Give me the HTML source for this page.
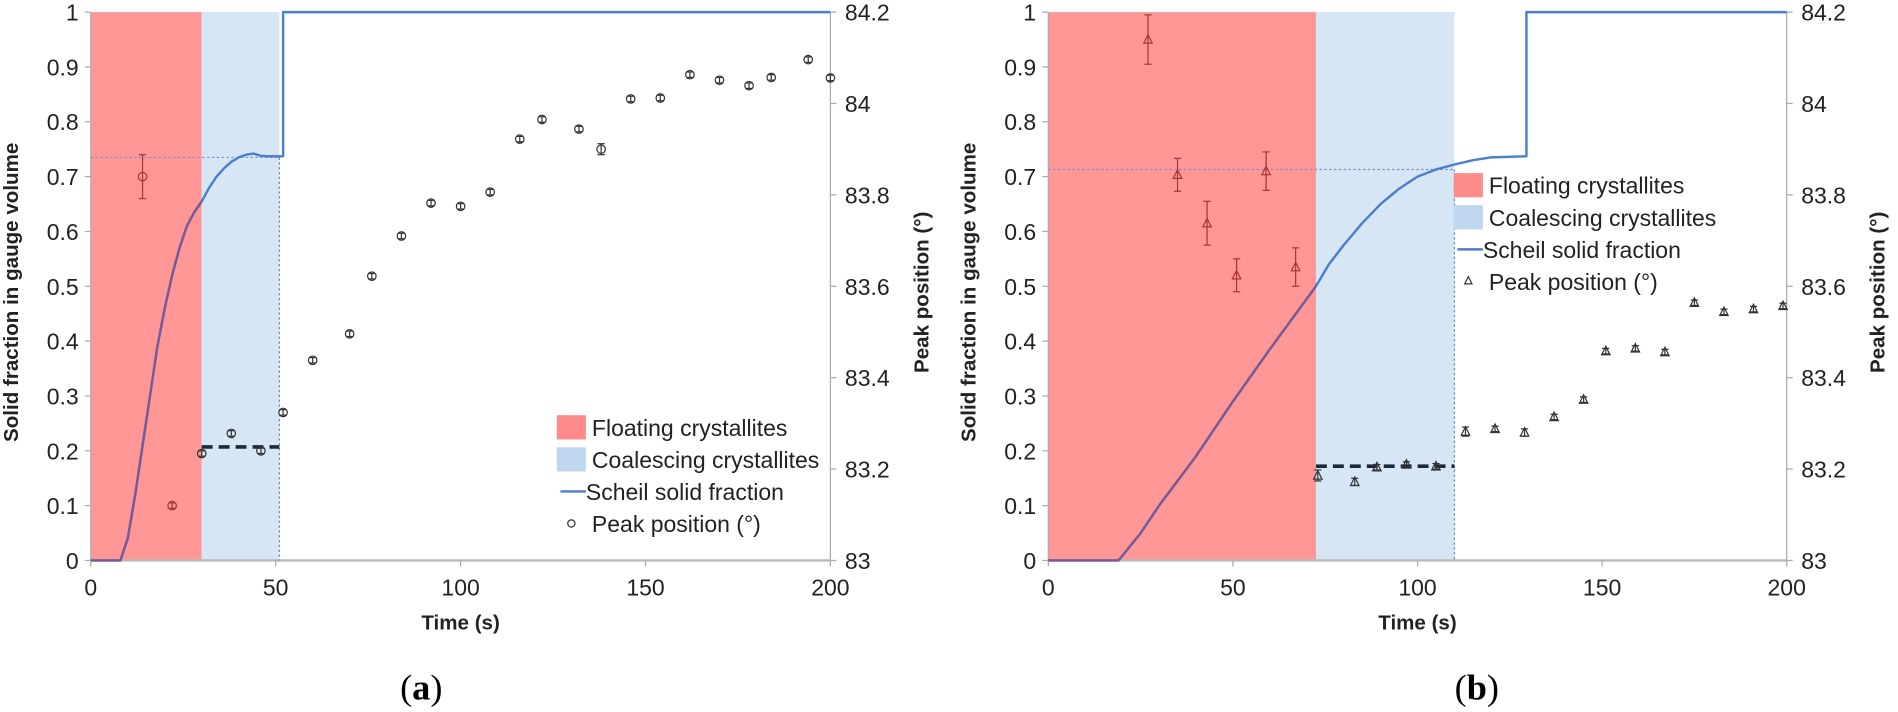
<!DOCTYPE html>
<html><head><meta charset="utf-8">
<style>
html,body{margin:0;padding:0;background:#fff;}
svg{display:block;font-family:"Liberation Sans",sans-serif;}
</style></head>
<body>
<svg id="chart" width="1898" height="712" viewBox="0 0 1898 712"><g id="root" transform="scale(1.2105)"></g></svg>
<script>
// ---------- data ----------
const xTicks = [0, 50, 100, 150, 200];
const yTicks = [0, 0.1, 0.2, 0.3, 0.4, 0.5, 0.6, 0.7, 0.8, 0.9, 1];
const y2Ticks = [83, 83.2, 83.4, 83.6, 83.8, 84, 84.2];

const aRegions = [30, 51];
const aScheilT = [0, 8, 10, 12, 14, 16, 18, 20, 22, 24, 26, 28, 30, 32, 34, 36, 38, 40, 42, 44, 46, 48, 52, 52, 200];
const aScheilF = [0, 0, 0.04, 0.12, 0.21, 0.30, 0.39, 0.46, 0.52, 0.57, 0.61, 0.635, 0.655, 0.68, 0.70, 0.715, 0.727, 0.735, 0.74, 0.742, 0.738, 0.737, 0.737, 1, 1];
const aPeakT = [14, 22, 30, 38, 46, 52, 60, 70, 76, 84, 92, 100, 108, 116, 122, 132, 138, 146, 154, 162, 170, 178, 184, 194, 200];
const aPeakV = [83.84, 83.12, 83.234, 83.278, 83.24, 83.324, 83.438, 83.496, 83.622, 83.71, 83.782, 83.775, 83.806, 83.922, 83.965, 83.944, 83.9, 84.01, 84.012, 84.063, 84.051, 84.039, 84.057, 84.096, 84.056];
const aPeakErr = [0.048, 0.006, 0.006, 0.006, 0.006, 0.006, 0.006, 0.006, 0.006, 0.006, 0.006, 0.006, 0.006, 0.006, 0.006, 0.006, 0.012, 0.006, 0.006, 0.006, 0.006, 0.006, 0.006, 0.006, 0.006];
const aCoherent = 0.735, aDashed = 0.207;

const bRegions = [72.5, 110];
const bScheilT = [0, 19, 25, 30, 40, 50, 60, 72.5, 76, 80, 85, 90, 95, 100, 105, 110, 115, 120, 129.5, 129.5, 200];
const bScheilF = [0, 0, 0.05, 0.1, 0.19, 0.29, 0.385, 0.5, 0.54, 0.575, 0.615, 0.65, 0.678, 0.7, 0.713, 0.722, 0.73, 0.735, 0.737, 1, 1];
const bPeakT = [27, 35, 43, 51, 59, 67, 73, 83, 89, 97, 105, 113, 121, 129, 137, 145, 151, 159, 167, 175, 183, 191, 199];
const bPeakV = [84.14, 83.844, 83.738, 83.624, 83.852, 83.642, 83.186, 83.172, 83.204, 83.21, 83.206, 83.282, 83.288, 83.28, 83.314, 83.352, 83.458, 83.464, 83.456, 83.564, 83.544, 83.55, 83.557];
const bPeakErr = [0.054, 0.036, 0.048, 0.036, 0.042, 0.042, 0.012, 0.008, 0.006, 0.006, 0.006, 0.01, 0.006, 0.008, 0.006, 0.006, 0.006, 0.006, 0.006, 0.006, 0.006, 0.006, 0.006];
const bCoherent = 0.713, bDashed = 0.172;

// ---------- drawing ----------
const NS = "http://www.w3.org/2000/svg";
const root = document.getElementById("root");
function mk(tag, attrs, parent) {
  const e = document.createElementNS(NS, tag);
  for (const k in attrs) e.setAttribute(k, attrs[k]);
  (parent || root).appendChild(e);
  return e;
}
const Y0 = 463, Y1 = 10;

function panel(id, L, R, regions, sT, sF, pT, pV, pE, coh, dash, marker, legX, legY, cap, capX) {
  const g = mk("g", {});
  
  
  const xs = t => L + (R - L) * t / 200;
  const ys = f => Y0 - (Y0 - Y1) * f;
  const y2s = v => Y0 - (Y0 - Y1) * (v - 83) / 1.2;

  const red = mk("rect", {x: xs(0), y: Y1, width: xs(regions[0]) - xs(0), height: Y0 - Y1, fill: "#ff9797"}, g);
  
  
  const blue = mk("rect", {x: xs(regions[0]), y: Y1, width: xs(regions[1]) - xs(regions[0]), height: Y0 - Y1, fill: "#d6e6f5"}, g);
  
  

  mk("line", {x1: L, y1: Y1, x2: L, y2: Y0, stroke: "#aaa", "stroke-width": 1}, g);
  mk("line", {x1: R, y1: Y1, x2: R, y2: Y0, stroke: "#aaa", "stroke-width": 1}, g);
  mk("line", {x1: L, y1: Y0, x2: R, y2: Y0, stroke: "#bbb", "stroke-width": 2}, g);
  yTicks.forEach(v => {
    mk("line", {x1: L - 5, y1: ys(v), x2: L, y2: ys(v), stroke: "#aaa"}, g);
    const t = mk("text", {x: L - 10, y: ys(v) + 7, "text-anchor": "end", "font-size": 19, fill: "#222"}, g);
    t.textContent = String(v);
    
    
  });
  y2Ticks.forEach(v => {
    mk("line", {x1: R, y1: y2s(v), x2: R + 5, y2: y2s(v), stroke: "#aaa"}, g);
    const t = mk("text", {x: R + 12, y: y2s(v) + 7, "font-size": 19, fill: "#222"}, g);
    t.textContent = String(v);
    
    
  });
  xTicks.forEach(v => {
    mk("line", {x1: xs(v), y1: Y0, x2: xs(v), y2: Y0 + 5, stroke: "#aaa"}, g);
    const t = mk("text", {x: xs(v), y: Y0 + 29, "text-anchor": "middle", "font-size": 19, fill: "#222"}, g);
    t.textContent = String(v);
    
    
  });
  const xt = mk("text", {x: (L + R) / 2, y: 520, "text-anchor": "middle", "font-size": 17, "font-weight": "bold", fill: "#222"}, g);
  xt.textContent = "Time (s)";
  
  
  const yt = mk("text", {transform: `translate(${L - 60},${(Y0 + Y1) / 2 + 5}) rotate(-90)`, "text-anchor": "middle", "font-size": 17, "font-weight": "bold", fill: "#222"}, g);
  yt.textContent = "Solid fraction in gauge volume";
  
  
  const y2t = mk("text", {transform: `translate(${R + 81},${(Y0 + Y1) / 2 + 5}) rotate(-90)`, "text-anchor": "middle", "font-size": 17, "font-weight": "bold", fill: "#222"}, g);
  y2t.textContent = "Peak position (°)";
  
  

  mk("line", {x1: xs(0), y1: ys(coh), x2: xs(regions[1]), y2: ys(coh), stroke: "#8a8ac0", "stroke-width": 1, "stroke-dasharray": "2,2"}, g);
  mk("line", {x1: xs(regions[1]), y1: ys(coh), x2: xs(regions[1]), y2: Y0, stroke: "#5b8fd6", "stroke-width": 1, "stroke-dasharray": "2,2"}, g);
  const dl = mk("line", {x1: xs(regions[0]), y1: ys(dash), x2: xs(regions[1]), y2: ys(dash), stroke: "#1d2a3a", "stroke-width": 3, "stroke-dasharray": "9,5"}, g);
  
  

  const d = sT.map((t, i) => (i ? "L" : "M") + xs(t).toFixed(1) + "," + ys(sF[i]).toFixed(1)).join(" ");
  const clipId = "clip" + id;
  const cp = mk("clipPath", {id: clipId}, g);
  mk("rect", {x: xs(0), y: 0, width: xs(regions[0]) - xs(0), height: 712}, cp);
  const sl = mk("path", {d: d, fill: "none", stroke: "#4a7fcb", "stroke-width": 2, "stroke-linejoin": "round"}, g);
  
  
  mk("path", {d: d, fill: "none", stroke: "#7a5a95", "stroke-width": 2, "stroke-linejoin": "round", "clip-path": `url(#${clipId})`}, g);

  pT.forEach((t, i) => {
    const x = xs(t), y = y2s(pV[i]);
    const inRed = t < regions[0];
    const col = inRed ? "#a33" : "#333";
    const e = pE[i] * (Y0 - Y1) / 1.2;
    mk("line", {x1: x, y1: y - e, x2: x, y2: y + e, stroke: col, "stroke-width": 1}, g);
    mk("line", {x1: x - 3, y1: y - e, x2: x + 3, y2: y - e, stroke: col}, g);
    mk("line", {x1: x - 3, y1: y + e, x2: x + 3, y2: y + e, stroke: col}, g);
    let m;
    if (marker === "circle") m = mk("circle", {cx: x, cy: y, r: 3.5, fill: "none", stroke: col, "stroke-width": 1}, g);
    else m = mk("path", {d: `M${x},${y - 4}L${x + 3.5},${y + 3}L${x - 3.5},${y + 3}Z`, fill: "none", stroke: col, "stroke-width": 1}, g);
    
    
  });

  const lg = mk("g", {}, g);
  
  
  const items = ["Floating crystallites", "Coalescing crystallites", "Scheil solid fraction", "Peak position (°)"];
  items.forEach((s, i) => {
    const yy = legY + i * 26.5;
    if (i === 0) mk("rect", {x: legX, y: yy - 10, width: 24, height: 20, fill: "#ff8a8a"}, lg);
    if (i === 1) mk("rect", {x: legX, y: yy - 10, width: 24, height: 20, fill: "#bcd7ee"}, lg);
    if (i === 2) mk("line", {x1: legX + 3, y1: yy, x2: legX + 24, y2: yy, stroke: "#4a7fcb", "stroke-width": 2}, lg);
    if (i === 3) {
      if (marker === "circle") mk("circle", {cx: legX + 12, cy: yy, r: 3, fill: "none", stroke: "#333"}, lg);
      else mk("path", {d: `M${legX + 12},${yy - 4}L${legX + 15},${yy + 2}L${legX + 9},${yy + 2}Z`, fill: "none", stroke: "#333"}, lg);
    }
    const tx = mk("text", {x: legX + (i < 2 ? 29 : (i === 2 ? 24 : 29)), y: yy + 7, "font-size": 19, fill: "#222"}, lg);
    tx.textContent = s;
    
    
  });

  const c = mk("text", {x: capX, y: 578, "text-anchor": "middle", "font-size": 30, "font-family": "Liberation Serif, serif", fill: "#000"}, g);
  c.innerHTML = "(<tspan font-weight='bold'>" + cap + "</tspan>)";
  
  
}

panel("a", 75, 686, aRegions, aScheilT, aScheilF, aPeakT, aPeakV, aPeakErr, aCoherent, aDashed, "circle", 460, 353, "a", 348);
panel("b", 866, 1476, bRegions, bScheilT, bScheilF, bPeakT, bPeakV, bPeakErr, bCoherent, bDashed, "triangle", 1201, 153, "b", 1220);
</script>
</body></html>
